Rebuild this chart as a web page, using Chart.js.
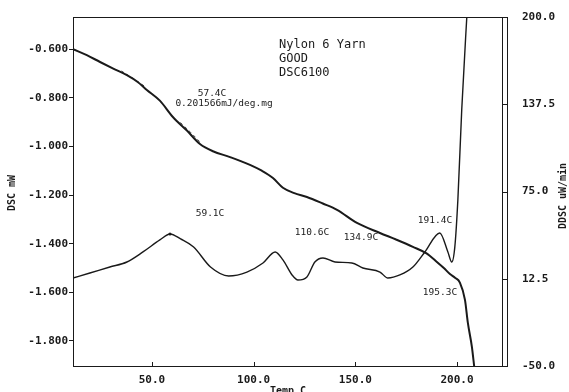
<!DOCTYPE html>
<html>
<head>
<meta charset="utf-8">
<script src="https://cdn.jsdelivr.net/npm/chart.js@4"></script>
<style>
  html, body { margin: 0; padding: 0; background: #fff; }
  #wrap { width: 569px; height: 392px; }
</style>
</head>
<body>
<div id="wrap"><canvas id="dscChart" width="569" height="392"></canvas></div>
<script>
// DSC trace (left axis, mW)
const dscTemp = [11.2, 18, 24.5, 31, 37.7, 43, 47.5, 53.9, 60.3, 67.2, 73.6, 80, 88.4, 98.2, 104,
  109.5, 114.4, 120, 126.2, 134, 141, 150.8, 162.1, 170, 178.3, 185, 190.1, 193.5, 196.5, 199,
  201.4, 203.9, 205.3, 207.3, 208.5];
const dscValue = [-0.600, -0.625, -0.653, -0.680, -0.707, -0.735, -0.768, -0.812, -0.879, -0.935,
  -0.990, -1.020, -1.044, -1.076, -1.100, -1.130, -1.170, -1.192, -1.208, -1.235, -1.261, -1.315,
  -1.356, -1.383, -1.413, -1.440, -1.475, -1.500, -1.525, -1.540, -1.560, -1.631, -1.725, -1.824, -1.910];

// DDSC trace (right axis, uW/min)
const ddscTemp = [11.2, 19.5, 29.3, 37.7, 45.6, 53.9, 58.9, 64.1, 70.5, 78.8, 87.7, 96.7, 104.6,
  110.6, 114.4, 118.9, 121.8, 126.2, 130.1, 134.1, 140, 148.3, 153.7, 162.1, 166, 171.9, 178.3,
  184.2, 191.5, 195.5, 197.4, 198.9, 200.4, 202.3, 204.8, 206];
const ddscValue = [13.0, 16.6, 20.9, 24.5, 31.7, 40.3, 44.6, 41.0, 35.2, 20.9, 14.5, 17.3, 23.8,
  31.7, 26.0, 15.2, 11.6, 13.8, 24.5, 27.4, 24.5, 23.8, 20.2, 17.3, 13.0, 15.2, 20.9, 31.7, 45.3,
  31.7, 24.5, 35.2, 68.9, 133.4, 200, 230];

// glass transition tangent marks
const tangentTempA = [35, 41, 47];
const tangentValueA = [-0.690, -0.722, -0.756];
const tangentTempB = [64, 69, 74];
const tangentValueB = [-0.902, -0.942, -0.985];

const xTicks = [50, 100, 150, 200];
const leftTicks = [-0.6, -0.8, -1.0, -1.2, -1.4, -1.6, -1.8];
const rightTicks = [-50, 12.5, 75, 137.5, 200];

const peakLabels = [
  { text: '57.4C', x: 212, y: 94 },
  { text: '0.201566mJ/deg.mg', x: 224, y: 104 },
  { text: '59.1C', x: 210, y: 214 },
  { text: '110.6C', x: 312, y: 233 },
  { text: '134.9C', x: 361, y: 238 },
  { text: '191.4C', x: 435, y: 221 },
  { text: '195.3C', x: 440, y: 293 }
];

const ink = '#1a1a1a';
const mono = 'DejaVu Sans Mono';

function toPoints(xs, ys) {
  return xs.map((x, i) => ({ x: x, y: ys[i] }));
}

// fixed axis sizes, no label overhang padding
function fixBox(w, h) {
  return s => {
    if (w !== null) s.width = w;
    if (h !== null) s.height = h;
    s.paddingTop = 0;
    s.paddingBottom = 0;
    s.paddingLeft = 0;
    s.paddingRight = 0;
  };
}

// frame, inward ticks, titles and notes
const framePlugin = {
  id: 'frame',
  afterDraw(chart) {
    const { ctx, chartArea: a, scales } = chart;
    ctx.save();
    ctx.strokeStyle = ink;
    ctx.lineWidth = 1;

    // top border
    ctx.beginPath();
    ctx.moveTo(a.left, a.top + 0.5);
    ctx.lineTo(a.right + 5, a.top + 0.5);
    ctx.stroke();

    // right double bar with tick marks
    ctx.beginPath();
    ctx.moveTo(a.right + 0.5, a.top);
    ctx.lineTo(a.right + 0.5, a.bottom);
    ctx.moveTo(a.right + 5.5, a.top);
    ctx.lineTo(a.right + 5.5, a.bottom);
    ctx.moveTo(a.right, a.bottom + 0.5);
    ctx.lineTo(a.right + 6, a.bottom + 0.5);
    rightTicks.forEach(v => {
      const y = Math.round(scales.y1.getPixelForValue(v)) + 0.5;
      ctx.moveTo(a.right, y);
      ctx.lineTo(a.right + 6, y);
    });
    ctx.stroke();

    // x ticks pointing into the plot
    ctx.beginPath();
    xTicks.forEach(v => {
      const x = Math.round(scales.x.getPixelForValue(v)) + 0.5;
      ctx.moveTo(x, a.bottom);
      ctx.lineTo(x, a.bottom - 4);
    });
    ctx.stroke();

    ctx.fillStyle = ink;
    ctx.textAlign = 'center';
    ctx.textBaseline = 'middle';

    // axis titles
    ctx.font = 'bold 10px ' + mono;
    ctx.fillText('Temp C', 288, 391);
    ctx.save();
    ctx.translate(12, 193);
    ctx.rotate(-Math.PI / 2);
    ctx.fillText('DSC mW', 0, 0);
    ctx.restore();
    ctx.save();
    ctx.translate(563, 196);
    ctx.rotate(-Math.PI / 2);
    ctx.fillText('DDSC uW/min', 0, 0);
    ctx.restore();

    // sample header
    ctx.textAlign = 'left';
    ctx.font = '12px ' + mono;
    ctx.fillText('Nylon 6 Yarn', 279, 45);
    ctx.fillText('GOOD', 279, 59);
    ctx.fillText('DSC6100', 279, 73);

    // peak notes
    ctx.textAlign = 'center';
    ctx.font = '9.5px ' + mono;
    peakLabels.forEach(l => ctx.fillText(l.text, l.x, l.y));
    ctx.restore();
  }
};

const ctx = document.getElementById('dscChart');

new Chart(ctx, {
  type: 'line',
  data: {
    datasets: [
      {
        label: 'DSC',
        data: toPoints(dscTemp, dscValue),
        yAxisID: 'y',
        borderColor: ink,
        borderWidth: 2,
        pointRadius: 0,
        cubicInterpolationMode: 'monotone'
      },
      {
        label: 'DDSC',
        data: toPoints(ddscTemp, ddscValue),
        yAxisID: 'y1',
        borderColor: ink,
        borderWidth: 1.4,
        pointRadius: ddscTemp.map(t => (t === 58.9 ? 1.5 : 0)),
        pointBackgroundColor: ink,
        pointBorderWidth: 0,
        cubicInterpolationMode: 'monotone'
      },
      {
        label: 'tangent A',
        data: toPoints(tangentTempA, tangentValueA),
        yAxisID: 'y',
        borderColor: '#444',
        borderWidth: 1,
        borderDash: [3, 3],
        pointRadius: 0
      },
      {
        label: 'tangent B',
        data: toPoints(tangentTempB, tangentValueB),
        yAxisID: 'y',
        borderColor: '#444',
        borderWidth: 1,
        borderDash: [3, 3],
        pointRadius: 0
      }
    ]
  },
  options: {
    responsive: false,
    animation: false,
    layout: { padding: { top: 17, left: 0, right: 0, bottom: 0 } },
    plugins: {
      legend: { display: false },
      tooltip: { enabled: false }
    },
    scales: {
      x: {
        type: 'linear',
        min: 11.2,
        max: 222.1,
        afterFit: fixBox(null, 26),
        afterBuildTicks: s => { s.ticks = xTicks.map(v => ({ value: v })); },
        grid: { display: false, drawTicks: false },
        border: { color: ink, width: 1 },
        ticks: {
          padding: 8,
          color: ink,
          font: { family: mono, size: 11, weight: 'bold' },
          callback: v => v.toFixed(1)
        }
      },
      y: {
        position: 'left',
        min: -1.903,
        max: -0.468,
        afterFit: fixBox(73, null),
        afterBuildTicks: s => { s.ticks = leftTicks.map(v => ({ value: v })); },
        grid: { drawOnChartArea: false, tickLength: 4, color: ink },
        border: { color: ink, width: 1 },
        ticks: {
          padding: 1,
          color: ink,
          font: { family: mono, size: 11, weight: 'bold' },
          callback: v => v.toFixed(3)
        }
      },
      y1: {
        position: 'right',
        min: -50,
        max: 200,
        afterFit: fixBox(67, null),
        afterBuildTicks: s => { s.ticks = rightTicks.map(v => ({ value: v })); },
        grid: { display: false, drawTicks: false },
        border: { display: false },
        ticks: {
          padding: 20,
          color: ink,
          font: { family: mono, size: 11, weight: 'bold' },
          callback: v => v.toFixed(1)
        }
      }
    }
  },
  plugins: [framePlugin]
});
</script>
</body>
</html>
